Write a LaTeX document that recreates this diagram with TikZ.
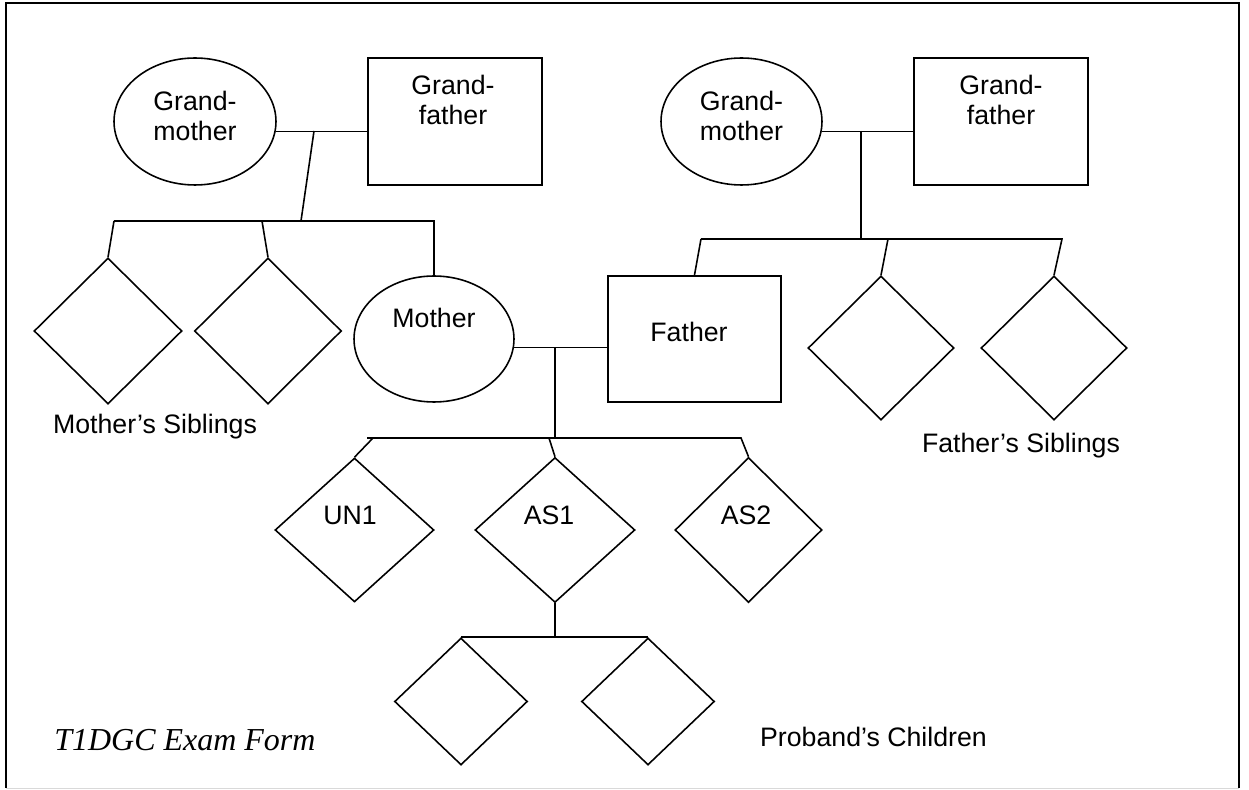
\documentclass[tikz,border=0pt]{standalone}
\usepackage{fontspec}
\setmainfont{Liberation Sans}
\newfontfamily\formfont{Liberation Serif}
\usepackage{tikz}
\usetikzlibrary{positioning,shapes.geometric}
\tikzstyle{female}=[ellipse, draw=black, line width=0.9pt, inner sep=0]
\tikzstyle{male}=[rectangle, draw=black, line width=1.1pt, inner sep=0]
\tikzstyle{unknown}=[diamond, draw=black, line width=0.9pt, inner sep=0]
\tikzstyle{persontext}=[font=\fontsize{15.2}{17.1}\selectfont, align=center, inner sep=0]
\tikzstyle{note}=[font=\fontsize{15.2}{17.1}\selectfont, inner sep=0]
\tikzstyle{link}=[line width=0.9pt]

\begin{document}
\begin{tikzpicture}[x=0.02cm, y=-0.02cm]
        \useasboundingbox (0,0) rectangle (1249,790);
        \draw [line width=1.1pt] (6,788) |- (1239,3) -- (1239,788);
        \draw [black!15] (6,788) -- (1239,788);

        \node (grandmaM) [female, minimum width=3.24cm, minimum height=2.54cm, label={[persontext, yshift=0.12cm]center:Grand-\\mother}] at (195,121.5) {};
        \node (grandpaM) [male, minimum width=3.48cm, minimum height=2.54cm, label={[persontext, yshift=0.43cm, xshift=-0.04cm]center:Grand-\\father}] at (455,121.5) {};
        \node (grandmaF) [female, minimum width=3.22cm, minimum height=2.54cm, label={[persontext, yshift=0.12cm]center:Grand-\\mother}] at (741.5,121.5) {};
        \node (grandpaF) [male, minimum width=3.48cm, minimum height=2.54cm, label={[persontext, yshift=0.43cm]center:Grand-\\father}] at (1001,121.5) {};

        \node (mother) [female, minimum width=3.2cm, minimum height=2.52cm, label={[persontext, yshift=0.42cm]center:Mother}] at (434,339) {};
        \node (father) [male, minimum width=3.46cm, minimum height=2.52cm, label={[persontext, yshift=0.14cm, xshift=-0.11cm]center:Father}] at (694.5,339) {};

        \node (sibM1) [unknown, minimum width=2.96cm, minimum height=2.92cm] at (108,331) {};
        \node (sibM2) [unknown, minimum width=2.94cm, minimum height=2.92cm] at (268,331) {};
        \node (sibF1) [unknown, minimum width=2.92cm, minimum height=2.88cm] at (881,348) {};
        \node (sibF2) [unknown, minimum width=2.92cm, minimum height=2.88cm] at (1054,348) {};

        \node (un1) [unknown, minimum width=3.18cm, minimum height=2.88cm, label={[persontext, yshift=0.3cm, xshift=-0.09cm]center:UN1}] at (354.5,530) {};
        \node (as1) [unknown, minimum width=3.2cm, minimum height=2.9cm, label={[persontext, yshift=0.3cm, xshift=-0.12cm]center:AS1}] at (555,530) {};
        \node (as2) [unknown, minimum width=2.94cm, minimum height=2.9cm, label={[persontext, yshift=0.3cm, xshift=-0.05cm]center:AS2}] at (748.5,530) {};

        \node (child1) [unknown, minimum width=2.66cm, minimum height=2.54cm] at (461,701.5) {};
        \node (child2) [unknown, minimum width=2.66cm, minimum height=2.54cm] at (648,701.5) {};

        \coordinate (coupleM) at (314,131);
        \coordinate (forkM) at (301,221);
        \coordinate (barMl) at (114,221);
        \coordinate (barMr) at (434,221);
        \coordinate (tickM2) at (262,221);
        \draw [link] (grandmaM.-7) -- (grandmaM.-7 -| grandpaM.west);
        \draw [link] (coupleM) -- (forkM);
        \draw [link] (barMl) -- (barMr) -- (mother.north);
        \draw [link] (barMl) -- (sibM1.north);
        \draw [link] (tickM2) -- (sibM2.north);

        \coordinate (coupleF) at (861,131);
        \coordinate (forkF) at (861,239);
        \coordinate (barFl) at (701,239);
        \coordinate (barFr) at (1062,239);
        \coordinate (tickF1) at (888,239);
        \draw [link] (grandmaF.-7) -- (grandmaF.-7 -| grandpaF.west);
        \draw [link] (coupleF) -- (forkF);
        \draw [link] (barFl) -- (barFr) -- (sibF2.north);
        \draw [link] (barFl) -- (father.north);
        \draw [link] (tickF1) -- (sibF1.north);

        \coordinate (coupleP) at (555,348);
        \coordinate (forkP) at (555,438);
        \coordinate (barPl) at (367,438);
        \coordinate (barPr) at (741,438);
        \coordinate (tickUN) at (373,438);
        \coordinate (tickAS) at (549,438);
        \draw [link] (mother.-6.5) -- (mother.-6.5 -| father.west);
        \draw [link] (coupleP) -- (forkP);
        \draw [link] (barPl) -- (barPr) -- (as2.north);
        \draw [link] (tickUN) -- (un1.north);
        \draw [link] (tickAS) -- (as1.north);

        \coordinate (forkC) at (555,638);
        \draw [link] (as1.south) -- (forkC);
        \draw [link] (child1.north) -- (child2.north);

        \node (sibMLabel) [note] at (155,427) {Mother’s Siblings};
        \node (sibFLabel) [note] at (1021,446) {Father’s Siblings};
        \node (childLabel) [note] at (873.5,737) {Proband’s Children};
        \node (formTitle) [anchor=west, inner sep=0, font=\formfont\itshape\fontsize{18.2}{20}\selectfont] at (54,740) {T1DGC Exam Form};

    \end{tikzpicture}
\end{document}
